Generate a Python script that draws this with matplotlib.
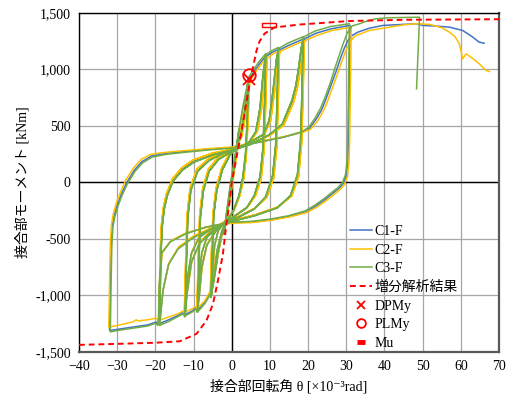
import matplotlib
matplotlib.use("Agg")
import matplotlib.pyplot as plt
from matplotlib.lines import Line2D
from matplotlib.ticker import FuncFormatter, MultipleLocator

plt.rcParams['font.family'] = ['Liberation Serif', 'Noto Sans CJK JP', 'DejaVu Sans']

# C1-F : (rotation [x10^-3 rad], moment [kNm])
c1_pts = [
    (0, 0), (1.0, 240), (2.0, 460), (1.3, 280), (0.2, 0), (-1.0, -240), (-2.0, -450), (-1.3, -260), (-0.2, 0),
    (1.0, 240), (2.0, 460), (3.0, 650), (4.0, 820), (4.5, 900),
    (4.2, 600), (3.7, 250), (3.0, 40), (2.0, -120), (0.5, -250), (-1.0, -330), (-2.5, -450), (-3.5, -620), (-4.5, -830), (-5.5, -1000),
    (-5.2, -620), (-4.8, -280), (-4.0, -60), (-2.5, 120), (-0.5, 250), (1.0, 300), (2.5, 420), (3.5, 620), (4.2, 820), (4.5, 880),
    (4.2, 560), (3.7, 230), (3.0, 30), (2.0, -120), (0.5, -250), (-1.0, -320), (-2.5, -420), (-3.8, -600), (-4.8, -850), (-5.5, -990),
    (-5.2, -620), (-4.8, -280), (-4.0, -60), (-2.5, 120), (-0.5, 250), (1.0, 300), (2.5, 400), (3.6, 620), (4.3, 850), (4.7, 920), (6.0, 990), (7.5, 1060), (9.0, 1120),
    (8.7, 700), (8.3, 300), (7.5, 40), (6.0, -120), (4.0, -220), (1.0, -290), (-1.5, -340), (-3.5, -420), (-4.5, -560), (-5.0, -800), (-5.3, -960), (-5.5, -1010), (-5.8, -985), (-7.0, -1060), (-9.0, -1135),
    (-8.7, -700), (-8.3, -300), (-7.5, -60), (-6.0, 110), (-3.5, 210), (-1.0, 260), (1.5, 300), (4.5, 350), (6.5, 450), (7.6, 650), (8.4, 950), (9.0, 1100),
    (8.7, 700), (8.3, 300), (7.5, 40), (6.0, -120), (4.0, -220), (1.0, -290), (-1.5, -340), (-4.0, -420), (-6.5, -550), (-7.8, -750), (-8.5, -1000), (-9.0, -1120),
    (-8.7, -700), (-8.3, -300), (-7.5, -60), (-6.0, 110), (-3.5, 210), (-1.0, 260), (1.5, 300), (4.5, 350), (6.5, 450), (7.6, 650), (8.4, 950), (8.9, 1100), (9.2, 1120), (10.5, 1150), (12.3, 1180),
    (12.0, 750), (11.6, 320), (10.8, 50), (9.0, -130), (6.0, -230), (2.0, -300), (-1.5, -340), (-4.0, -400), (-6.5, -480), (-7.8, -620), (-8.5, -850), (-8.9, -1080), (-9.1, -1140), (-9.4, -1110), (-10.5, -1140), (-12.3, -1170),
    (-12.0, -750), (-11.6, -300), (-10.8, -60), (-9.0, 110), (-6.0, 200), (-2.5, 260), (1.0, 300), (5.0, 360), (8.5, 430), (10.0, 550), (11.0, 800), (11.8, 1080), (12.3, 1160),
    (12.0, 750), (11.6, 320), (10.8, 50), (9.0, -130), (6.0, -230), (2.0, -300), (-2.0, -360), (-5.5, -430), (-8.5, -540), (-10.5, -700), (-11.6, -950), (-12.3, -1160),
    (-12.0, -750), (-11.6, -300), (-10.8, -60), (-9.0, 110), (-6.0, 200), (-2.5, 260), (1.0, 300), (5.0, 360), (8.5, 430), (10.0, 550), (11.0, 800), (11.8, 1080), (12.3, 1160), (12.6, 1175), (15.0, 1215), (18.8, 1270),
    (18.5, 800), (18.1, 350), (17.3, 60), (15.5, -120), (12.0, -220), (6.0, -290), (0.0, -340), (-5.0, -400), (-8.5, -480), (-10.5, -620), (-11.6, -850), (-12.2, -1120), (-12.4, -1180), (-12.7, -1150), (-14.0, -1175), (-16.5, -1215), (-19.0, -1250),
    (-18.8, -900), (-18.6, -600), (-18.3, -380), (-17.8, -230), (-17.0, -110), (-15.5, 20), (-13.0, 120), (-10.0, 190), (-5.0, 250), (0.0, 290), (5.0, 340), (9.9, 420), (13.4, 510), (16.0, 720), (17.0, 850), (17.8, 1020), (18.4, 1170), (18.8, 1250),
    (18.5, 800), (18.1, 350), (17.3, 60), (15.5, -120), (12.0, -220), (6.0, -290), (0.0, -340), (-5.0, -400), (-10.0, -480), (-14.0, -580), (-16.5, -720), (-18.0, -950), (-18.8, -1200), (-19.0, -1245),
    (-18.8, -900), (-18.6, -600), (-18.3, -380), (-17.8, -230), (-17.0, -110), (-15.5, 20), (-13.0, 120), (-10.0, 190), (-5.0, 250), (0.0, 290), (5.0, 340), (9.9, 420), (13.4, 510), (16.0, 720), (17.0, 850), (17.8, 1020), (18.4, 1170), (18.9, 1260), (19.3, 1275), (22.0, 1320), (26.0, 1360), (31.0, 1390),
    (30.8, 900), (30.6, 400), (30.4, 180), (30.0, 60), (29.2, -10), (28.0, -55), (26.5, -95), (24.5, -150), (22.0, -210), (19.5, -260), (15.0, -300), (10.0, -330), (5.0, -350), (0.0, -355), (-6.6, -395), (-12.0, -450), (-16.0, -520), (-18.3, -620), (-18.9, -900), (-19.1, -1200), (-19.3, -1255), (-19.8, -1235), (-22.0, -1260), (-26.0, -1280), (-30.0, -1300), (-32.0, -1310),
    (-31.8, -900), (-31.6, -550), (-31.3, -380), (-30.8, -290), (-30.0, -200), (-29.0, -110), (-27.5, 0), (-25.5, 110), (-23.5, 185), (-21.0, 235), (-17.0, 258), (-12.0, 275), (-6.0, 295), (0.3, 310), (4.7, 340), (13.4, 400), (18.6, 445), (20.4, 480), (22.1, 560), (23.5, 640), (24.7, 740), (26.0, 860), (27.3, 980), (28.5, 1100), (29.5, 1190), (30.5, 1260), (31.5, 1300), (33.0, 1330), (36.0, 1365), (39.6, 1390), (44.0, 1398), (48.3, 1405), (50.0, 1390), (53.0, 1385), (57.0, 1375), (60.5, 1345), (63.0, 1290), (64.8, 1242), (66.1, 1233),
]

# C2-F
c2_pts = [
    (0, 0), (1.0, 230), (2.1, 450), (1.4, 270), (0.3, 0), (-0.9, -230), (-2.0, -440), (-1.2, -250), (-0.1, 0),
    (1.1, 230), (2.1, 450), (3.1, 640), (4.1, 810), (4.6, 880),
    (4.3, 590), (3.8, 240), (3.1, 30), (2.1, -120), (0.6, -245), (-0.9, -320), (-2.4, -440), (-3.4, -610), (-4.5, -820), (-5.6, -980),
    (-5.3, -600), (-4.9, -270), (-4.1, -50), (-2.6, 130), (-0.6, 260), (1.1, 310), (2.6, 420), (3.7, 620), (4.3, 810), (4.6, 870),
    (4.3, 550), (3.8, 220), (3.1, 20), (2.1, -120), (0.6, -245), (-0.9, -310), (-2.4, -410), (-3.7, -590), (-4.8, -840), (-5.6, -975),
    (-5.3, -600), (-4.9, -270), (-4.1, -50), (-2.6, 130), (-0.6, 260), (1.1, 310), (2.7, 410), (3.8, 620), (4.5, 840), (4.9, 905), (6.2, 975), (7.7, 1045), (9.2, 1100),
    (8.9, 690), (8.5, 290), (7.7, 30), (6.2, -120), (4.2, -215), (1.2, -285), (-1.4, -330), (-3.4, -410), (-4.4, -550), (-4.9, -790), (-5.2, -945), (-5.5, -995), (-5.8, -970), (-7.0, -1045), (-9.1, -1115),
    (-8.8, -690), (-8.4, -290), (-7.6, -50), (-6.1, 120), (-3.6, 220), (-1.1, 270), (1.6, 305), (4.7, 355), (6.7, 450), (7.8, 650), (8.6, 940), (9.2, 1085),
    (8.9, 690), (8.5, 290), (7.7, 30), (6.2, -120), (4.2, -215), (1.2, -285), (-1.4, -330), (-3.9, -410), (-6.4, -540), (-7.7, -740), (-8.5, -990), (-9.1, -1105),
    (-8.8, -690), (-8.4, -290), (-7.6, -50), (-6.1, 120), (-3.6, 220), (-1.1, 270), (1.6, 305), (4.7, 355), (6.7, 450), (7.8, 650), (8.6, 940), (9.1, 1085), (9.4, 1100), (10.7, 1135), (12.5, 1165),
    (12.2, 740), (11.8, 310), (11.0, 40), (9.2, -130), (6.2, -225), (2.2, -295), (-1.4, -330), (-3.9, -390), (-6.4, -470), (-7.7, -610), (-8.4, -840), (-8.8, -1065), (-9.0, -1120), (-9.3, -1095), (-10.5, -1120), (-12.4, -1150),
    (-12.1, -740), (-11.7, -290), (-10.9, -50), (-9.1, 120), (-6.1, 210), (-2.6, 270), (1.1, 305), (5.2, 365), (8.7, 435), (10.2, 550), (11.2, 800), (12.0, 1070), (12.5, 1145),
    (12.2, 740), (11.8, 310), (11.0, 40), (9.2, -130), (6.2, -225), (2.2, -295), (-1.9, -350), (-5.4, -420), (-8.4, -530), (-10.4, -690), (-11.5, -940), (-12.4, -1145),
    (-12.1, -740), (-11.7, -290), (-10.9, -50), (-9.1, 120), (-6.1, 210), (-2.6, 270), (1.1, 305), (5.2, 365), (8.7, 435), (10.2, 550), (11.2, 800), (12.0, 1070), (12.5, 1145), (12.8, 1160), (15.2, 1200), (19.0, 1255),
    (18.7, 790), (18.3, 340), (17.5, 50), (15.7, -120), (12.2, -215), (6.2, -285), (0.2, -335), (-4.9, -390), (-8.4, -470), (-10.4, -610), (-11.5, -840), (-12.1, -1105), (-12.3, -1160), (-12.6, -1135), (-14.0, -1160), (-16.5, -1190), (-19.1, -1220),
    (-18.9, -890), (-18.7, -590), (-18.4, -370), (-17.9, -220), (-17.1, -100), (-15.6, 30), (-13.1, 130), (-10.1, 200), (-5.1, 260), (0.1, 295), (5.2, 345), (10.1, 420), (13.6, 505), (16.2, 710), (17.2, 840), (18.0, 1005), (18.6, 1150), (19.0, 1235),
    (18.7, 790), (18.3, 340), (17.5, 50), (15.7, -120), (12.2, -215), (6.2, -285), (0.2, -335), (-4.9, -395), (-9.9, -470), (-13.9, -570), (-16.4, -710), (-17.9, -940), (-18.8, -1180), (-19.1, -1215),
    (-18.9, -890), (-18.7, -590), (-18.4, -370), (-17.9, -220), (-17.1, -100), (-15.6, 30), (-13.1, 130), (-10.1, 200), (-5.1, 260), (0.1, 295), (5.2, 345), (10.1, 420), (13.6, 505), (16.2, 710), (17.2, 840), (18.0, 1005), (18.6, 1150), (19.1, 1245), (19.5, 1260), (22.2, 1300), (26.2, 1345), (31.3, 1375),
    (31.1, 890), (30.9, 390), (30.7, 170), (30.3, 50), (29.5, -20), (28.3, -65), (26.8, -105), (24.8, -160), (22.2, -220), (19.7, -265), (15.2, -305), (10.2, -335), (5.2, -355), (0.2, -360), (-6.4, -395), (-11.9, -445), (-15.9, -515), (-18.2, -610), (-18.8, -880), (-19.0, -1170), (-19.2, -1225), (-19.7, -1200), (-22.0, -1215), (-24.5, -1225), (-25.0, -1215), (-26.0, -1235), (-30.0, -1265), (-32.2, -1280),
    (-32.0, -880), (-31.8, -540), (-31.5, -370), (-31.0, -275), (-30.2, -180), (-29.2, -90), (-27.8, 20), (-25.7, 130), (-23.7, 205), (-21.2, 250), (-17.0, 268), (-12.0, 283), (-6.0, 300), (0.3, 315), (4.7, 345), (13.4, 405), (18.6, 445), (20.6, 470), (22.4, 540), (23.8, 620), (25.0, 710), (26.3, 830), (27.6, 950), (28.8, 1070), (29.8, 1160), (30.8, 1230), (31.8, 1280), (32.6, 1301), (36.0, 1345), (41.3, 1375), (45.0, 1395), (48.3, 1405), (51.8, 1399), (55.0, 1370), (57.0, 1331), (58.5, 1290), (59.6, 1228), (60.5, 1095), (61.4, 1139), (63.0, 1100), (64.8, 1051), (66.6, 991), (67.5, 982),
]

# C3-F
c3_pts = [
    (0, 0), (1.0, 250), (1.9, 470), (1.2, 290), (0.1, 0), (-1.1, -250), (-2.1, -460), (-1.4, -270), (-0.3, 0),
    (0.9, 250), (1.9, 470), (2.9, 670), (3.9, 840), (4.4, 920),
    (4.1, 610), (3.6, 260), (2.9, 50), (1.9, -115), (0.4, -250), (-1.1, -335), (-2.6, -460), (-3.6, -630), (-4.5, -840), (-5.4, -1010),
    (-5.1, -630), (-4.7, -290), (-3.9, -70), (-2.4, 115), (-0.4, 245), (0.9, 295), (2.4, 420), (3.4, 630), (4.1, 830), (4.4, 900),
    (4.1, 570), (3.6, 240), (2.9, 40), (1.9, -115), (0.4, -250), (-1.1, -325), (-2.6, -430), (-3.9, -610), (-4.7, -860), (-5.4, -1000),
    (-5.1, -630), (-4.7, -290), (-3.9, -70), (-2.4, 115), (-0.4, 245), (0.9, 295), (2.3, 400), (3.4, 630), (4.1, 860), (4.5, 935), (5.8, 1005), (7.3, 1075), (8.9, 1140),
    (8.6, 710), (8.2, 310), (7.4, 50), (5.9, -115), (3.9, -225), (0.9, -295), (-1.6, -345), (-3.6, -430), (-4.6, -570), (-5.0, -810), (-5.2, -970), (-5.4, -1020), (-5.7, -995), (-7.0, -1070), (-8.9, -1145),
    (-8.6, -710), (-8.2, -310), (-7.4, -70), (-5.9, 100), (-3.4, 205), (-0.9, 255), (1.4, 295), (4.3, 345), (6.3, 450), (7.4, 660), (8.2, 960), (8.9, 1115),
    (8.6, 710), (8.2, 310), (7.4, 50), (5.9, -115), (3.9, -225), (0.9, -295), (-1.6, -345), (-4.1, -430), (-6.6, -560), (-7.9, -760), (-8.5, -1010), (-8.9, -1130),
    (-8.6, -710), (-8.2, -310), (-7.4, -70), (-5.9, 100), (-3.4, 205), (-0.9, 255), (1.4, 295), (4.3, 345), (6.3, 450), (7.4, 660), (8.2, 960), (8.8, 1115), (9.1, 1135), (10.4, 1165), (12.2, 1195),
    (11.9, 760), (11.5, 330), (10.7, 60), (8.9, -125), (5.9, -235), (1.9, -305), (-1.6, -345), (-4.1, -410), (-6.6, -490), (-7.9, -630), (-8.6, -860), (-8.9, -1090), (-9.0, -1150), (-9.3, -1120), (-10.5, -1150), (-12.2, -1180),
    (-11.9, -760), (-11.5, -310), (-10.7, -70), (-8.9, 100), (-5.9, 195), (-2.4, 255), (0.9, 295), (4.8, 355), (8.3, 425), (9.8, 550), (10.8, 810), (11.7, 1090), (12.2, 1175),
    (11.9, 760), (11.5, 330), (10.7, 60), (8.9, -125), (5.9, -235), (1.9, -305), (-2.1, -365), (-5.6, -440), (-8.6, -550), (-10.6, -710), (-11.6, -960), (-12.2, -1170),
    (-11.9, -760), (-11.5, -310), (-10.7, -70), (-8.9, 100), (-5.9, 195), (-2.4, 255), (0.9, 295), (4.8, 355), (8.3, 425), (9.8, 550), (10.8, 810), (11.7, 1090), (12.2, 1175), (12.5, 1190), (14.8, 1235), (18.7, 1290),
    (18.4, 810), (18.0, 360), (17.2, 70), (15.4, -115), (11.9, -225), (5.9, -295), (-0.1, -345), (-5.1, -405), (-8.6, -490), (-10.6, -630), (-11.7, -860), (-12.1, -1130), (-12.3, -1190), (-12.6, -1160), (-14.0, -1185), (-16.5, -1230), (-18.9, -1265),
    (-18.7, -910), (-18.5, -610), (-18.2, -390), (-17.7, -240), (-16.9, -120), (-15.4, 10), (-12.9, 110), (-9.9, 180), (-4.9, 245), (-0.1, 285), (4.8, 335), (9.7, 420), (13.2, 515), (15.8, 730), (16.8, 860), (17.6, 1035), (18.2, 1190), (18.7, 1265),
    (18.4, 810), (18.0, 360), (17.2, 70), (15.4, -115), (11.9, -225), (5.9, -295), (-0.1, -345), (-5.1, -405), (-10.1, -490), (-14.1, -590), (-16.6, -730), (-18.0, -960), (-18.7, -1210), (-18.9, -1260),
    (-18.7, -910), (-18.5, -610), (-18.2, -390), (-17.7, -240), (-16.9, -120), (-15.4, 10), (-12.9, 110), (-9.9, 180), (-4.9, 245), (-0.1, 285), (4.8, 335), (9.7, 420), (13.2, 515), (15.8, 730), (16.8, 860), (17.6, 1035), (18.2, 1190), (18.8, 1280), (19.2, 1295), (21.8, 1340), (25.8, 1380), (30.8, 1405),
    (30.6, 910), (30.4, 410), (30.2, 190), (29.8, 70), (29.0, 0), (27.8, -45), (26.3, -85), (24.3, -140), (21.8, -200), (19.3, -250), (14.8, -295), (9.8, -325), (4.8, -345), (-0.2, -350), (-6.8, -395), (-12.1, -455), (-16.1, -525), (-18.4, -630), (-19.0, -910), (-19.2, -1210), (-19.4, -1265), (-19.9, -1245), (-22.0, -1270), (-26.0, -1290), (-30.0, -1310), (-31.8, -1322),
    (-31.6, -910), (-31.4, -560), (-31.1, -390), (-30.6, -300), (-29.8, -210), (-28.8, -120), (-27.3, -10), (-25.3, 100), (-23.3, 175), (-20.8, 225), (-17.0, 250), (-12.0, 268), (-6.0, 288), (0.3, 305), (4.7, 340), (13.4, 400), (18.4, 450), (20.2, 490), (21.9, 575), (23.3, 660), (24.5, 760), (25.8, 880), (27.0, 1010), (28.2, 1130), (29.2, 1230), (30.2, 1320), (31.5, 1385), (33.5, 1405), (35.5, 1430), (37.8, 1449), (41.3, 1458), (45.0, 1460), (49.2, 1463), (48.4, 829),
]

# incremental analysis (skeleton curve)
an_theta = [-40, -30, -20, -13.6, -9.2, -6.6, -4.9, -3.6, -2.3, -1.4, -0.5, 0, 1.0, 2.1, 3.0, 4.0, 4.7, 5.5, 6.5, 7.3, 8.6, 11.2, 17.8, 30.8, 45, 70]
an_moment = [-1437, -1428, -1418, -1405, -1339, -1221, -1074, -867, -631, -366, -160, 0, 180, 372, 540, 740, 873, 1010, 1168, 1250, 1318, 1372, 1398, 1429, 1440, 1445]

dp_my = (4.4, 912)
pl_my = (4.4, 948)
mu = (9.8, 1395)

fig = plt.figure(figsize=(5.11, 3.96), dpi=100)
ax = fig.add_axes([79 / 511, 1 - 352 / 396, 420 / 511, 339 / 396])

ax.set_xlim(-40, 70)
ax.set_ylim(-1500, 1500)
ax.xaxis.set_major_locator(MultipleLocator(10))
ax.yaxis.set_major_locator(MultipleLocator(500))
ax.yaxis.set_major_formatter(FuncFormatter(lambda v, p: f"{v:,.0f}"))
ax.grid(True, color='#a6a6a6', lw=0.9)
ax.set_axisbelow(True)
ax.axhline(0, color='black', lw=1.0, zorder=1)
ax.axvline(0, color='black', lw=1.0, zorder=1)
ax.tick_params(length=0, labelsize=10, pad=6)
for side in ['left', 'top']:
    ax.spines[side].set_color('black')
    ax.spines[side].set_linewidth(1.0)
for side in ['right', 'bottom']:
    ax.spines[side].set_color('#595959')
    ax.spines[side].set_linewidth(1.6)

for pts, col, lab in [(c1_pts, '#4472C4', 'C1-F'), (c2_pts, '#FFC000', 'C2-F'), (c3_pts, '#70AD47', 'C3-F')]:
    th, m = zip(*pts)
    ax.plot(th, m, color=col, lw=1.1, label=lab, zorder=3)

ax.plot(an_theta, an_moment, color='#FF0000', lw=1.4, ls=(0, (3, 2)), label='増分解析結果', zorder=4)
ax.plot([dp_my[0]], [dp_my[1]], 'x', color='#FF0000', ms=8, mew=1.3, label='DPMy', zorder=5)
ax.plot([pl_my[0]], [pl_my[1]], 'o', mfc='none', mec='#FF0000', ms=9, mew=1.3, label='PLMy', zorder=5)
rect = [(-2.2, -0.55), (2.2, -0.55), (2.2, 0.55), (-2.2, 0.55), (-2.2, -0.55)]
ax.plot([mu[0]], [mu[1]], marker=rect, mfc='none', mec='#FF0000', ms=10, mew=1.0, ls='none', zorder=5)

handles, labels = ax.get_legend_handles_labels()
handles.append(Line2D([], [], color='#FF0000', marker='_', ms=9, mew=3.5, ls='none'))
labels.append('Mu')
ax.legend(handles, labels, loc='lower left', bbox_to_anchor=(0.632, -0.01), frameon=False,
          fontsize=10, handlelength=1.6, handletextpad=0.15, labelspacing=0.40, borderaxespad=0,
          markerscale=0.7)

ax.set_xlabel('接合部回転角 θ [×10⁻³rad]', fontsize=10, labelpad=4)
ax.set_ylabel('接合部モーメント [kNm]', fontsize=10, labelpad=4)

fig.savefig('out.png', dpi=100)
